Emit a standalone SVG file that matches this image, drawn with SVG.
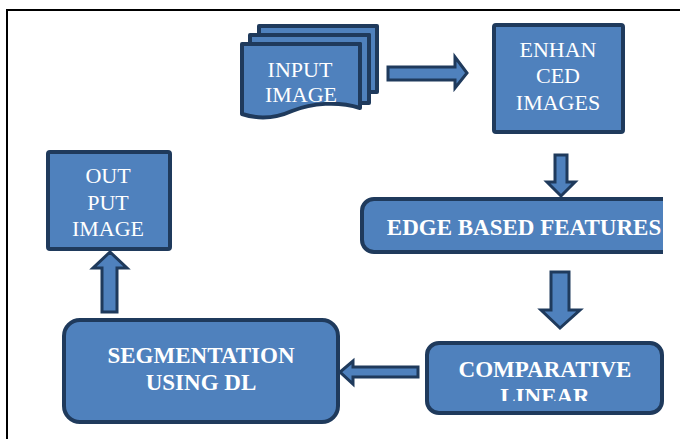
<svg xmlns="http://www.w3.org/2000/svg" width="681" height="439" viewBox="0 0 681 439">
<style>
.box{fill:#4F81BD;stroke:#1F3A5C;stroke-width:4;stroke-linejoin:round}
.arr{fill:#4F81BD;stroke:#1F3A5C;stroke-width:3;stroke-linejoin:miter}
.t{font-family:'Liberation Serif','DejaVu Serif',serif;font-size:22px;fill:#FFFFFF;text-anchor:middle}
.b{font-weight:bold;font-size:23px}
</style>
<defs>
<clipPath id="edgeClip"><rect x="0" y="0" width="663" height="439"/></clipPath>
<clipPath id="compClip"><rect x="0" y="0" width="681" height="401"/></clipPath>
</defs>
<rect x="0" y="0" width="681" height="439" fill="#FFFFFF"/>
<g id="frame" fill="none" stroke="#000000" stroke-width="2">
<path d="M7,439 V10 H680"/>
</g>
<g id="connectors">
<polygon class="arr" points="388,67 455,67 455,57 467,73 455,88 455,80 388,80"/>
<polygon class="arr" points="555,155 567,155 567,182 575,182 561,196 547,182 555,182"/>
<polygon class="arr" points="551,272 569,272 569,310 580,310 560,328 541,310 551,310"/>
<polygon class="arr" points="418,367 418,377 353,377 353,384 340,372 353,361 353,367"/>
<polygon class="arr" points="102,312 117,312 117,268 127,268 110,252 93,268 102,268"/>
</g>
<g id="input-image">
<path class="box" d="M259,26 H377 V92 H369 V35 H259 Z"/>
<path class="box" d="M250,35 H369 V103 H360 V44 H250 Z"/>
<path class="box" d="M242,44 H360 V108 C338,101 312,103 292,111 C274,119 257,119 242,114 Z"/>
<text class="t" x="300" y="77">INPUT</text>
<text class="t" x="301" y="102">IMAGE</text>
</g>
<g id="enhanced-images">
<rect class="box" x="494" y="25" width="129" height="107" rx="2"/>
<text class="t" x="558" y="57">ENHAN</text>
<text class="t" x="558" y="83">CED</text>
<text class="t" x="558" y="110">IMAGES</text>
</g>
<g id="edge-based-features">
<g clip-path="url(#edgeClip)">
<rect class="box" x="362" y="199" width="340" height="53" rx="12"/>
</g>
<text class="t b" x="524" y="235">EDGE BASED FEATURES</text>
</g>
<g id="comparative-linear">
<rect class="box" x="427" y="343" width="235" height="70" rx="12"/>
<g clip-path="url(#compClip)">
<text class="t b" x="545" y="377">COMPARATIVE</text>
<text class="t b" x="545" y="404">LINEAR</text>
</g>
</g>
<g id="segmentation">
<rect class="box" x="64" y="320" width="274" height="102" rx="16"/>
<text class="t b" x="201" y="363">SEGMENTATION</text>
<text class="t b" x="201" y="390">USING DL</text>
</g>
<g id="output-image">
<rect class="box" x="48" y="152" width="122" height="97" rx="2"/>
<text class="t" x="108" y="183">OUT</text>
<text class="t" x="108" y="210">PUT</text>
<text class="t" x="108" y="236">IMAGE</text>
</g>
</svg>
